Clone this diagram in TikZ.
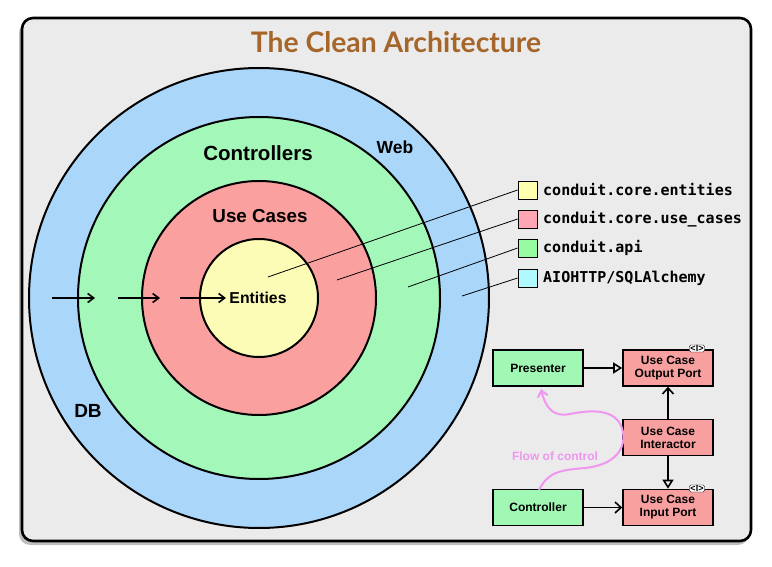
\documentclass[tikz,border=0pt]{standalone}
\usepackage{fontspec}
\setmainfont{Liberation Sans}
\newfontfamily\titlefont{Lato}
\newfontfamily\legendfont{DejaVu Sans Mono}
\usetikzlibrary{arrows.meta}
\definecolor{bgc}{RGB}{235,235,235}
\definecolor{webc}{RGB}{170,214,250}
\definecolor{ctlc}{RGB}{163,248,185}
\definecolor{ucc}{RGB}{250,160,158}
\definecolor{entc}{RGB}{252,252,182}
\definecolor{lyel}{RGB}{255,255,176}
\definecolor{lpink}{RGB}{255,166,180}
\definecolor{lgreen}{RGB}{150,250,160}
\definecolor{lcyan}{RGB}{176,250,255}
\definecolor{titlec}{RGB}{166,102,42}
\definecolor{flowc}{RGB}{240,150,240}
\definecolor{boxg}{RGB}{160,248,180}
\definecolor{boxr}{RGB}{248,160,160}
\tikzset{
  ring/.style={circle, draw=black, line width=2pt, inner sep=0pt},
  legbox/.style={draw=black, line width=0.8pt, minimum width=19pt, minimum height=18pt, inner sep=0pt},
  legtext/.style={anchor=west, font=\legendfont\bfseries\fontsize{15}{17}\selectfont, inner sep=0pt},
  leader/.style={draw=black, line width=0.8pt},
  flowarrow/.style={-{Straight Barb[length=6pt,width=9pt]}, line width=1.6pt},
  uml/.style={draw=black, line width=1.6pt, minimum width=90pt, minimum height=36pt, inner sep=1pt, align=center, font=\bfseries\fontsize{12}{13}\selectfont},
  iface/.style={fill=white, draw=black, line width=0.4pt, inner xsep=1.2pt, inner ysep=0.4pt, font=\bfseries\fontsize{9}{9}\selectfont, rounded corners=1.5pt},
}
\begin{document}
\begin{tikzpicture}[x=1pt,y=-1pt]
\fill[white] (0,0) rectangle (772,567);
\useasboundingbox (0,0) rectangle (772,567);
\fill[black!25] (19,22) [rounded corners=11pt] rectangle (749,545);
\draw[fill=bgc, line width=2.6pt, rounded corners=11pt] (22,18) rectangle (751,541);
\node[font=\titlefont\bfseries\fontsize{28.3}{30}\selectfont, text=titlec] (title) at (396,42) {The Clean Architecture};

% rings
\node[ring, fill=webc, minimum size=460pt] (web) at (259,298) {};
\node[ring, fill=ctlc, minimum size=362pt] (ctl) at (259,298) {};
\node[ring, fill=ucc, minimum size=234pt] (uc) at (259,298) {};
\node[ring, fill=entc, minimum size=118pt] (ent) at (259,298) {};

\node[font=\bfseries\fontsize{20.5}{22}\selectfont] (lctl) at (258,153) {Controllers};
\node[font=\bfseries\fontsize{17.5}{19}\selectfont] (lweb) at (395,147) {Web};
\node[font=\bfseries\fontsize{18.8}{20}\selectfont] (luc) at (260,216) {Use Cases};
\node[font=\bfseries\fontsize{15.8}{17}\selectfont] (lent) at (258,298) {Entities};
\node[font=\bfseries\fontsize{19}{20}\selectfont] (ldb) at (88,411) {DB};

% dependency arrows
\coordinate (a1) at (52,298); \coordinate (a2) at (95,298);
\coordinate (b1) at (118,298); \coordinate (b2) at (160,298);
\coordinate (c1) at (180,298);
\draw[flowarrow] (a1) -- (a2);
\draw[flowarrow] (b1) -- (b2);
\draw[flowarrow] (c1) -- (lent.west);

% legend
\node[legbox, fill=lyel] (k1) at (527.5,190) {};
\node[legbox, fill=lpink] (k2) at (527.5,219) {};
\node[legbox, fill=lgreen] (k3) at (527.5,248) {};
\node[legbox, fill=lcyan] (k4) at (527.5,278) {};
\node[legtext] (t1) at (543,190) {conduit.core.entities};
\node[legtext] (t2) at (543,219) {conduit.core.use\_cases};
\node[legtext] (t3) at (543,248) {conduit.api};
\node[legtext] (t4) at (543,278) {AIOHTTP/SQLAlchemy};
\coordinate (p1) at (268,277);
\coordinate (p2) at (337,280);
\coordinate (p3) at (408,287);
\coordinate (p4) at (462,296);
\draw[leader] (p1) -- (k1.west);
\draw[leader] (p2) -- (k2.west);
\draw[leader] (p3) -- (k3.west);
\draw[leader] (p4) -- (k4.west);

% UML part
\node[uml, fill=boxg] (pres) at (538,368) {Presenter};
\node[uml, fill=boxr] (outp) at (668,368) {Use Case\\Output Port};
\node[uml, fill=boxr] (inter) at (668,437.5) {Use Case\\Interactor};
\node[uml, fill=boxg] (ctrl) at (538,507.5) {Controller};
\node[uml, fill=boxr] (inp) at (668,507.5) {Use Case\\Input Port};
\node[iface] (i1) at (697,348.5) {<I>};
\node[iface] (i2) at (697,488.5) {<I>};

\draw[line width=1.6pt, -{Triangle[open, length=9pt, width=11pt]}] (pres) -- (outp);
\draw[line width=1.6pt, -{Straight Barb[length=6pt,width=11pt]}] (inter) -- (outp);
\draw[line width=1.6pt, -{Triangle[open, length=9pt, width=11pt]}] (inter) -- (inp);
\draw[line width=1.6pt, -{Straight Barb[length=6pt,width=11pt]}] (ctrl) -- (inp);

% flow of control
\coordinate (fs) at (539,490);
\coordinate (fe) at (541,389);
\draw[flowc, line width=2pt, -{Straight Barb[length=6pt,width=10pt]}]
  (fs) .. controls (548,472) and (560,470) .. (585,468)
       .. controls (615,465) and (628,448) .. (622,428)
       .. controls (615,408) and (590,410) .. (570,414)
       .. controls (555,417) and (546,410) .. (fe);
\node[text=flowc, font=\bfseries\fontsize{12}{13}\selectfont] (flow) at (555,456) {Flow of control};
\end{tikzpicture}
\end{document}
